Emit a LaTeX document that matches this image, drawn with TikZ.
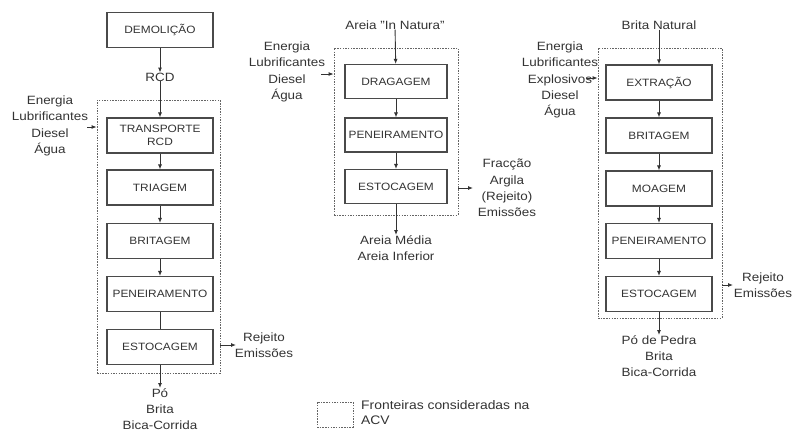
\documentclass[tikz,border=0pt]{standalone}
\usepackage{fontspec}
\setmainfont{Liberation Sans}[FakeStretch=1.12]
\usetikzlibrary{arrows.meta}
\definecolor{ink}{HTML}{333333}
\definecolor{edge}{HTML}{4A4A4A}

\begin{document}
\begin{tikzpicture}[x=1pt, y=-1pt,
    every node/.style={text=ink, align=center, inner sep=0pt,
                       font=\fontsize{12}{16.3}\selectfont},
    stage/.style={draw=edge, line width=1.1pt, fill=white,
                  minimum width=106pt, minimum height=35pt,
                  font=\fontsize{10.6}{12.5}\selectfont},
    frontier/.style={draw=edge!85, line width=0.8pt,
                     dash pattern=on 1.5pt off 1.2pt},
    link/.style={draw=ink, line width=0.9pt},
    flow/.style={link, -{Latex[length=5pt,width=4pt]}}]
    \useasboundingbox (0,0) rectangle (794,434);

    % RCD
    \node[frontier, minimum width=123pt, minimum height=273pt] (f1) at (158.5,236.5) {};
    \node[stage] (dem) at (160,30) {DEMOLIÇÃO};
    \node (rcd) at (160,77) {RCD};
    \node[stage] (tra) at (160,135.5) {TRANSPORTE\\RCD};
    \node[stage] (tri) at (160,187.5) {TRIAGEM};
    \node[stage] (bri1) at (160,241) {BRITAGEM};
    \node[stage] (pen1) at (160,294) {PENEIRAMENTO};
    \node[stage] (est1) at (160,347) {ESTOCAGEM};
    \node (in1) at (50,126) {Energia\\Lubrificantes\\Diesel\\Água};
    \node (rej1) at (264,345) {Rejeito\\Emissões};
    \node[anchor=north] (out1) at (160,388) {Pó\\Brita\\Bica-Corrida};
    \coordinate (a1) at (87,127);
    \coordinate (b1) at (236,345);
    \draw[flow] (dem) -- (rcd);
    \draw[flow] (rcd) -- (tra);
    \draw[flow] (tra) -- (tri);
    \draw[flow] (tri) -- (bri1);
    \draw[flow] (bri1) -- (pen1);
    \draw[link] (pen1) -- (est1);
    \draw[flow] (est1) -- (out1);
    \draw[flow] (a1) -- (a1 -| f1.west);
    \draw[flow] (b1 -| f1.east) -- (b1);

    % Areia
    \node[frontier, minimum width=124pt, minimum height=167pt] (f2) at (396,131.5) {};
    \node (are) at (395,25) {Areia "In Natura"};
    \node[stage, minimum width=102pt, minimum height=34pt] (dra) at (396,81.5) {DRAGAGEM};
    \node[stage, minimum width=102pt, minimum height=34pt] (pen2) at (396,135) {PENEIRAMENTO};
    \node[stage, minimum width=102pt, minimum height=34pt] (est2) at (396,186.5) {ESTOCAGEM};
    \node (in2) at (287,72) {Energia\\Lubrificantes\\Diesel\\Água};
    \node (rej2) at (507,188) {Fracção\\Argila\\(Rejeito)\\Emissões};
    \node[anchor=north] (out2) at (396,235) {Areia Média\\Areia Inferior};
    \coordinate (a2) at (321,74);
    \coordinate (b2) at (473,188);
    \draw[flow] (are) -- (dra);
    \draw[flow] (dra) -- (pen2);
    \draw[flow] (pen2) -- (est2);
    \draw[flow] (est2) -- (out2);
    \draw[flow] (a2) -- (a2 -| f2.west);
    \draw[flow] (b2 -| f2.east) -- (b2);

    % Brita
    \node[frontier, minimum width=124pt, minimum height=270pt] (f3) at (660,183) {};
    \node (nat) at (659,25) {Brita Natural};
    \node[stage] (ext) at (659,82.5) {EXTRAÇÃO};
    \node[stage] (bri3) at (659,135.5) {BRITAGEM};
    \node[stage] (moa) at (659,188.5) {MOAGEM};
    \node[stage] (pen3) at (659,241) {PENEIRAMENTO};
    \node[stage] (est3) at (659,294) {ESTOCAGEM};
    \node (in3) at (560,80) {Energia\\Lubrificantes\\Explosivos\\Diesel\\Água};
    \node (rej3) at (763,285) {Rejeito\\Emissões};
    \node[anchor=north] (out3) at (659,335) {Pó de Pedra\\Brita\\Bica-Corrida};
    \coordinate (a3) at (587,78);
    \coordinate (b3) at (733,285);
    \draw[flow] (nat) -- (ext);
    \draw[flow] (ext) -- (bri3);
    \draw[flow] (bri3) -- (moa);
    \draw[flow] (moa) -- (pen3);
    \draw[flow] (pen3) -- (est3);
    \draw[flow] (est3) -- (out3);
    \draw[flow] (a3) -- (a3 -| f3.west);
    \draw[flow] (b3 -| f3.east) -- (b3);

    % legenda
    \node[frontier, minimum width=36pt, minimum height=25pt] (leg) at (335,414.5) {};
    \node[anchor=north west, align=left, font=\fontsize{12.4}{15}\selectfont] (legtxt) at (361,400) {Fronteiras consideradas na\\ACV};
\end{tikzpicture}
\end{document}
